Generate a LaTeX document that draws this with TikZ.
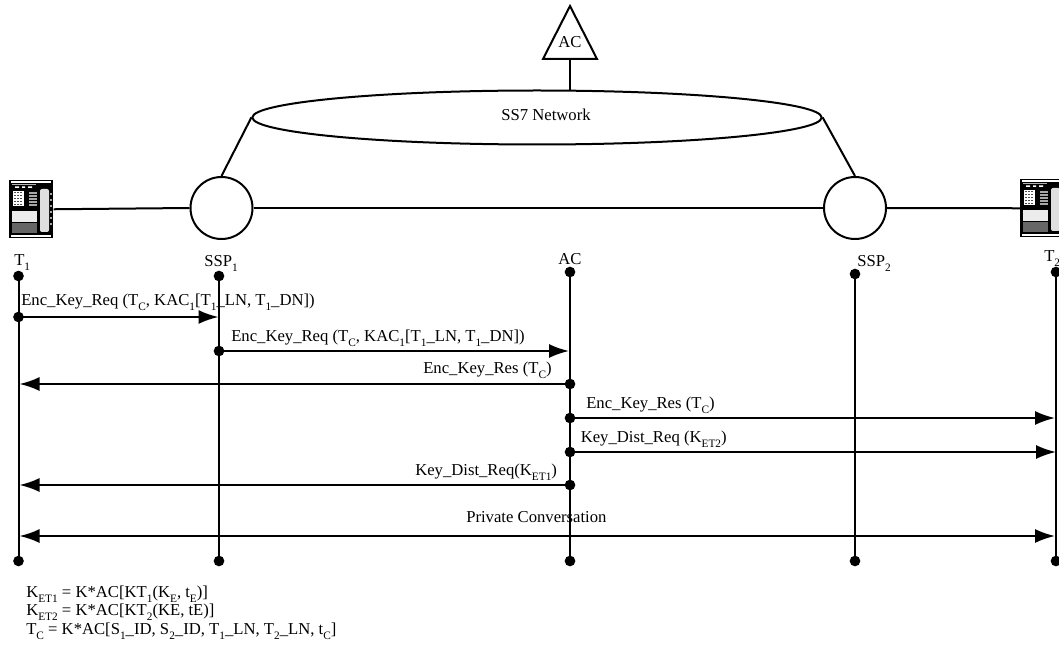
\documentclass[tikz,border=0pt]{standalone}
\usepackage{fontspec}
\setmainfont{Liberation Serif}
\usetikzlibrary{arrows.meta,shapes.geometric}
\newcommand\sbs[1]{\raisebox{-0.3em}{\fontsize{8.5}{8.5}\selectfont #1}}
\newcommand\phonedraw{%
  \fill[black] (0,0) rectangle (44,58);
  \fill[white] (2,1.5) rectangle (42,2.6);
  \fill[white] (2,55) rectangle (42,56.6);
  \fill[gray!60] (3,4) rectangle (27,5);
  \fill[white] (6,6.5) rectangle (10,8) (13,6.5) rectangle (16,8) (19,6.5) rectangle (23,8);
  \fill[white] (4,11) rectangle (15,26);
  \foreach \kx in {5,8,11}{\foreach \ky in {12,15,18,21,24}{\fill[black!70] (\kx,\ky) rectangle ++(2,1.4);}}
  \foreach \ky in {12,15,18,21,24}{\fill[gray!70] (20,\ky) rectangle (28,\ky+1.6);}
  \fill[gray!15] (2.5,31) rectangle (28,42);
  \fill[gray!80!black] (2.5,43) rectangle (28,53);
  \fill[gray!25,rounded corners=1.5] (31,9) rectangle (40,52);
  \foreach \ky in {13,19,25,31,37,43}{\fill[gray!70] (41,\ky) rectangle (43,\ky+2);}
}
\tikzset{
  wire/.style={line width=1.5pt,draw=black},
  msg/.style={line width=1.5pt,draw=black,-{Latex[length=15pt,width=10.5pt]}},
  bothmsg/.style={line width=1.5pt,draw=black,{Latex[length=15pt,width=10.5pt]}-{Latex[length=15pt,width=10.5pt]}},
  dot/.style={circle,fill=black,draw=none,inner sep=0pt,outer sep=0pt,minimum size=8pt},
  lab/.style={inner sep=0pt,anchor=base west,font=\fontsize{12.5}{12.5}\selectfont},
  switch/.style={circle,line width=1.5pt,draw=black,inner sep=0pt,minimum size=46.5pt},
  net/.style={ellipse,line width=1.5pt,draw=black,inner sep=0pt,minimum width=427pt,minimum height=40.5pt},
  phonebox/.style={inner sep=0pt,anchor=north west,minimum width=33pt,draw=none}
}
\begin{document}
\begin{tikzpicture}[x=0.75pt,y=-0.75pt]
\useasboundingbox (0,0) rectangle (1059,645);
\clip (0,0) rectangle (1059,645);
% phones
\node[phonebox,minimum height=43.5pt] (ph1) at (9,180) {};
\node[phonebox,minimum height=45pt] (ph2) at (1020,178) {};
\begin{scope}[shift={(9,180)}]\phonedraw\end{scope}
\begin{scope}[shift={(1020,179)}]\phonedraw\end{scope}
% network
\node[switch] (sw1) at (221.5,208) {};
\node[switch] (sw2) at (855,208) {};
\node[net] (ss7) at (537,117.5) {};
\node[lab,anchor=base] (ss7t) at (546,121) {SS7 Network};
\coordinate (tria) at (570,6);
\coordinate (trib) at (597,59);
\coordinate (tric) at (543,59);
\coordinate (acb) at (570,59);
\coordinate (net top) at (570,91);
\draw[wire,line join=miter] (tria) -- (trib) -- (tric) -- cycle;
\node[lab,anchor=base] (acnode) at (570,48) {AC};
\draw[wire] (acb) -- (net top);
\draw[wire] (ss7.west) -- (sw1.north);
\draw[wire] (ss7.east) -- (sw2.north);
\draw[wire] (ph1.east) -- (sw1.west);
\draw[wire] (sw1.east) -- (sw2.west);
\draw[wire] (sw2.east) -- (ph2.west);
% headers
\node[lab] (lt1) at (14,265) {T\sbs{1}};
\node[lab] (ls1) at (204,266) {SSP\sbs{1}};
\node[lab,anchor=base] (lac) at (570,264) {AC};
\node[lab] (ls2) at (857,266) {SSP\sbs{2}};
\node[lab] (lt2) at (1044,262) {T\sbs{2}};
% timelines
\node[dot] (t1a) at (18.5,276) {};
\node[dot] (s1a) at (219,276) {};
\node[dot] (aca) at (570,272) {};
\node[dot] (s2a) at (855,274) {};
\node[dot] (t2a) at (1056,272) {};
\node[dot] (t1z) at (18.5,561) {};
\node[dot] (s1z) at (219,561) {};
\node[dot] (acz) at (570,561) {};
\node[dot] (s2z) at (855,561) {};
\node[dot] (t2z) at (1056,561) {};
\draw[wire] (t1a.center) -- (t1z.center);
\draw[wire] (s1a.center) -- (s1z.center);
\draw[wire] (aca.center) -- (acz.center);
\draw[wire] (s2a.center) -- (s2z.center);
\draw[wire] (t2a.center) -- (t2z.center);
% message dots and ends
\node[dot] (m1) at (18.5,317) {};
\coordinate (m1e) at (218.5,317);
\node[dot] (m2) at (219,351) {};
\coordinate (m2e) at (569,351);
\node[dot] (m3) at (570,384) {};
\coordinate (m3e) at (19.5,384);
\node[dot] (m4) at (570,418) {};
\coordinate (m4e) at (1055,418);
\node[dot] (m5) at (570,452) {};
\coordinate (m5e) at (1056,452);
\node[dot] (m6) at (570,485) {};
\coordinate (m6e) at (19.5,485);
\coordinate (m7a) at (19.5,536);
\coordinate (m7e) at (1055,536);
\draw[msg] (m1.center) -- (m1e);
\draw[msg] (m2.center) -- (m2e);
\draw[msg] (m3.center) -- (m3e);
\draw[msg] (m4.center) -- (m4e);
\draw[msg] (m5.center) -- (m5e);
\draw[msg] (m6.center) -- (m6e);
\draw[bothmsg] (m7a) -- (m7e);
% labels
\node[lab] (x1) at (21,305) {Enc\_Key\_Req (T\sbs{C}, KAC\sbs{1}[T\sbs{1}\_LN, T\sbs{1}\_DN])};
\node[lab] (x2) at (231,341) {Enc\_Key\_Req (T\sbs{C}, KAC\sbs{1}[T\sbs{1}\_LN, T\sbs{1}\_DN])};
\node[lab] (x3) at (423,373) {Enc\_Key\_Res (T\sbs{C})};
\node[lab] (x4) at (586,408) {Enc\_Key\_Res (T\sbs{C})};
\node[lab] (x5) at (580.5,442) {Key\_Dist\_Req (K\sbs{ET2})};
\node[lab] (x6) at (415,475) {Key\_Dist\_Req(K\sbs{ET1})};
\node[lab] (x7) at (466,522) {Private Conversation};
\node[lab] (f1) at (26,597) {K\sbs{ET1} = K*AC[KT\sbs{1}(K\sbs{E}, t\sbs{E})]};
\node[lab] (f2) at (26,615.5) {K\sbs{ET2} = K*AC[KT\sbs{2}(KE, tE)]};
\node[lab] (f3) at (26,634) {T\sbs{C} = K*AC[S\sbs{1}\_ID, S\sbs{2}\_ID, T\sbs{1}\_LN, T\sbs{2}\_LN, t\sbs{C}]};
\end{tikzpicture}
\end{document}
